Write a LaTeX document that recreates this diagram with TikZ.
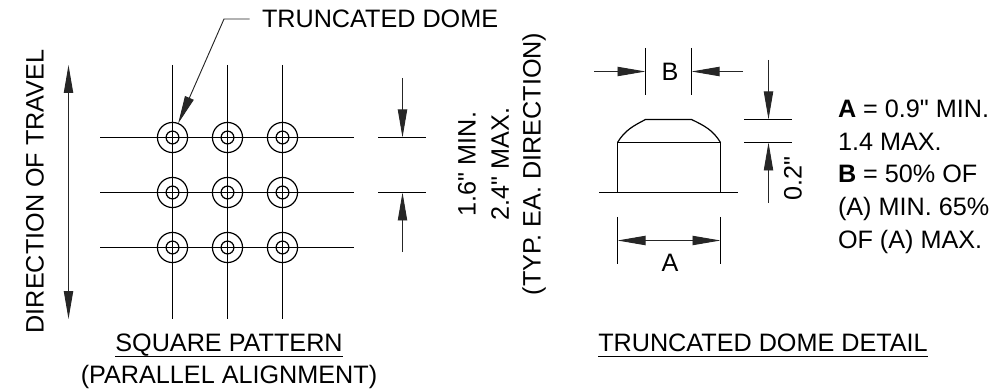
\documentclass[tikz,border=0pt]{standalone}
\usepackage{fontspec}
\setmainfont{Liberation Sans}[Ligatures=TeXOff]
\usetikzlibrary{arrows.meta, positioning}

\tikzset{
    part/.style={line width=0.9pt, black},
    dimline/.style={line width=0.7pt, black!85},
    dimarrow/.style={dimline, -{Triangle[length=21pt, width=7pt]}},
    dimboth/.style={dimline, {Triangle[length=21pt, width=7pt]}-{Triangle[length=21pt, width=7pt]}},
    label/.style={font=\fontsize{18.9}{24.5}\selectfont, inner sep=0pt, outer sep=0pt},
    domeouter/.style={circle, part, minimum size=22.6pt, inner sep=0pt, outer sep=0pt},
    domeinner/.style={circle, part, minimum size=9.6pt, inner sep=0pt, outer sep=0pt},
}

\begin{document}
\begin{tikzpicture}[x=0.75pt, y=-0.75pt]
    \useasboundingbox (0,0) rectangle (996,392);

    % square pattern
    \foreach \x/\c in {172.5/a, 227.5/b, 282.5/c} {
        \coordinate (top\c) at (\x,65);
        \coordinate (bot\c) at (\x,319);
        \draw[part] (top\c) -- (bot\c);
    }
    \foreach \y/\r in {137.5/1, 192.5/2, 247.5/3} {
        \coordinate (left\r) at (100,\y);
        \coordinate (right\r) at (354,\y);
        \draw[part] (left\r) -- (right\r);
        \foreach \x/\c in {172.5/a, 227.5/b, 282.5/c} {
            \node[domeouter, draw] (outer\c\r) at (\x,\y) {};
            \node[domeinner, draw] (inner\c\r) at (\x,\y) {};
        }
    }

    % direction of travel
    \coordinate (travelup) at (68.5,65);
    \coordinate (traveldown) at (68.5,319);
    \draw[dimboth] (travelup) -- (traveldown);
    \node[label, rotate=90] (travel) at (35,191.5) {DIRECTION OF TRAVEL};

    % leader
    \node[label, anchor=base west] (domelabel) at (262,27.5) {TRUNCATED DOME};
    \coordinate (leaderend) at (249.5,19);
    \coordinate (leaderknee) at (224,19);
    \draw[dimarrow] (leaderend) -- (leaderknee) -- (outera1.68);

    % spacing dimension
    \coordinate (spaceup) at (402.5,78);
    \coordinate (spaceupend) at (402.5,137.5);
    \coordinate (spacedown) at (402.5,252);
    \coordinate (spacedownend) at (402.5,192.5);
    \coordinate (extaleft) at (378,137.5);
    \coordinate (extaright) at (426,137.5);
    \coordinate (extbleft) at (378,192.5);
    \coordinate (extbright) at (426,192.5);
    \draw[part] (extaleft) -- (extaright);
    \draw[part] (extbleft) -- (extbright);
    \draw[dimarrow] (spaceup) -- (spaceupend);
    \draw[dimarrow] (spacedown) -- (spacedownend);
    \node[label, rotate=90] (spacemin) at (467,164) {1.6" MIN.};
    \node[label, rotate=90] (spacemax) at (500,164) {2.4" MAX.};
    \node[label, rotate=90] (spacetyp) at (534,164) {(TYP. EA. DIRECTION)};

    % dome detail
    \coordinate (baseleft) at (599,192.5);
    \coordinate (baseright) at (738,192.5);
    \coordinate (boxbl) at (617.5,192.5);
    \coordinate (boxtl) at (617.5,142.5);
    \coordinate (boxtr) at (720.5,142.5);
    \coordinate (boxbr) at (720.5,192.5);
    \coordinate (flatl) at (645.5,119.5);
    \coordinate (flatr) at (691.5,119.5);
    \draw[part] (baseleft) -- (baseright);
    \draw[part] (boxbl) -- (boxtl) -- (boxtr) -- (boxbr);
    \draw[part] (boxtl) .. controls (625,130) and (634,125.5) .. (flatl) -- (flatr)
        .. controls (704,125.5) and (713,130) .. (boxtr);

    % B
    \coordinate (btl) at (645.5,48);
    \coordinate (bbl) at (645.5,95);
    \coordinate (btr) at (691.5,48);
    \coordinate (bbr) at (691.5,95);
    \coordinate (barrowl) at (594,71.5);
    \coordinate (barrowlend) at (645.5,71.5);
    \coordinate (barrowr) at (743,71.5);
    \coordinate (barrowrend) at (691.5,71.5);
    \draw[part] (btl) -- (bbl);
    \draw[part] (btr) -- (bbr);
    \draw[dimarrow] (barrowl) -- (barrowlend);
    \draw[dimarrow] (barrowr) -- (barrowrend);
    \node[label] (blabel) at (670,72) {B};

    % A
    \coordinate (atl) at (617.5,217);
    \coordinate (abl) at (617.5,264);
    \coordinate (atr) at (720.5,217);
    \coordinate (abr) at (720.5,264);
    \coordinate (aarrowl) at (617.5,240.5);
    \coordinate (aarrowr) at (720.5,240.5);
    \draw[part] (atl) -- (abl);
    \draw[part] (atr) -- (abr);
    \draw[dimboth] (aarrowl) -- (aarrowr);
    \node[label] (alabel) at (670,263) {A};

    % 0.2 dimension
    \coordinate (hup) at (768.5,60);
    \coordinate (hupend) at (768.5,119.5);
    \coordinate (hdown) at (768.5,203);
    \coordinate (hdownend) at (768.5,142.5);
    \coordinate (hal) at (744,119.5);
    \coordinate (har) at (792,119.5);
    \coordinate (hbl) at (744,142.5);
    \coordinate (hbr) at (792,142.5);
    \draw[part] (hal) -- (har);
    \draw[part] (hbl) -- (hbr);
    \draw[dimarrow] (hup) -- (hupend);
    \draw[dimarrow] (hdown) -- (hdownend);
    \node[label, rotate=90] (hlabel) at (793,179) {0.2"};

    % notes
    \node[label, anchor=base west] (note1) at (838,118) {\textbf{A} = 0.9" MIN.};
    \node[label, anchor=base west] (note2) at (838,150.5) {1.4 MAX.};
    \node[label, anchor=base west] (note3) at (838,183) {\textbf{B} = 50\% OF};
    \node[label, anchor=base west] (note4) at (838,215.5) {(A) MIN. 65\%};
    \node[label, anchor=base west] (note5) at (838,248) {OF (A) MAX.};

    % titles
    \node[label, anchor=base] (squaretitle) at (229,351.5) {SQUARE PATTERN};
    \coordinate (squareulleft) at (115,356.5);
    \coordinate (squareulright) at (343,356.5);
    \draw[part] (squareulleft) -- (squareulright);
    \node[label, anchor=base] (squaresub) at (229,383.5) {(PARALLEL ALIGNMENT)};
    \node[label, anchor=base] (detailtitle) at (763,351) {TRUNCATED DOME DETAIL};
    \coordinate (detailulleft) at (598,356.5);
    \coordinate (detailulright) at (928,356.5);
    \draw[part] (detailulleft) -- (detailulright);
\end{tikzpicture}
\end{document}
